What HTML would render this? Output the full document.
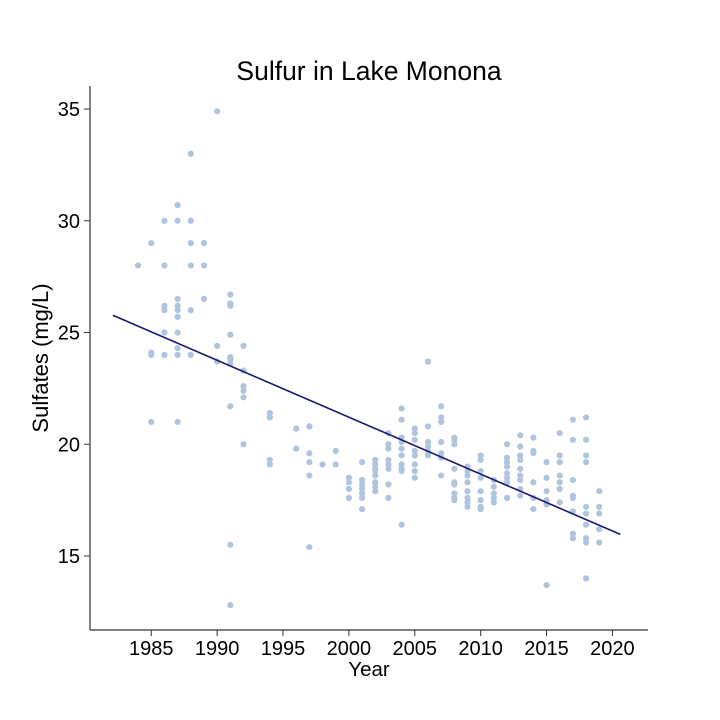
<!DOCTYPE html>
<html><head><meta charset="utf-8"><style>
body{margin:0;background:#fff}
svg{display:block;font-family:"Liberation Sans","DejaVu Sans",sans-serif}
</style></head><body>
<svg id="chart" width="720" height="720">
<text x="369" y="80" text-anchor="middle" font-size="26.5">Sulfur in Lake Monona</text>
<text x="369" y="676" text-anchor="middle" font-size="20.5">Year</text>
<text transform="translate(48,358) rotate(-90)" text-anchor="middle" font-size="22">Sulfates (mg/L)</text>
</svg>
<script>
const yearGroups = [1984,1985,1986,1987,1988,1989,1990,1991,1992,1994,1996,1997,1998,1999,2000,2001,2002,2003,2004,2005,2006,2007,2008,2009,2010,2011,2012,2013,2014,2015,2016,2017,2018,2019];
const sulfateGroups = [
[28],[29,24.1,24,21],[30,28,26.2,26,25,24],[30.7,30,26.5,26.2,26,25.7,25,24.3,24,21],
[33,30,29,28,26,24],[29,28,26.5],[34.9,24.4,23.7],[26.7,26.3,26.2,24.9,23.9,23.8,23.6,21.7,15.5,12.8],
[24.4,23.3,22.6,22.4,22.1,20],[21.4,21.2,19.3,19.1],[20.7,19.8],[20.8,20.8,19.6,19.2,18.6,15.4],
[19.1],[19.7,19.1],[18.5,18.3,18.0,17.6],[19.2,18.4,18.2,18.0,17.8,17.6,17.1],
[19.3,19.1,18.9,18.8,18.6,18.3,18.1,17.9],[20.5,20.0,19.8,19.3,19.1,18.9,18.2,17.6],
[21.6,21.1,20.3,20.1,19.8,19.5,19.1,18.9,18.8,16.4],[20.7,20.5,20.2,19.7,19.5,19.1,18.8,18.5],
[23.7,20.8,20.1,19.9,19.7,19.5],[21.7,21.2,21.0,20.1,19.6,19.4,18.6],
[20.3,20.2,20.0,18.9,18.3,18.2,17.8,17.6,17.5],[19.0,18.8,18.6,18.3,17.9,17.6,17.4,17.2],
[19.5,19.3,18.8,18.5,17.9,17.5,17.2,17.1],[18.4,18.1,17.8,17.6,17.4],
[20.0,19.4,19.2,19.0,18.7,18.5,18.3,17.6],[20.4,19.9,19.5,19.3,18.9,18.6,18.4,18.0,17.7],
[20.3,19.7,19.6,18.3,17.6,17.1],[19.2,18.5,17.9,17.5,17.3,13.7],
[20.5,19.5,19.2,18.6,18.3,18.0,17.4],[21.1,20.2,18.4,17.7,17.6,17.0,16.0,15.8],
[21.2,20.2,19.5,19.2,17.2,16.9,16.4,15.8,15.6,14.0],[17.9,17.2,16.9,16.2,15.6]
];
const xTicks = [1985,1990,1995,2000,2005,2010,2015,2020];
const yTicks = [15,20,25,30,35];
const fitRange = [1982.1, 2020.6];

const NS="http://www.w3.org/2000/svg";
const svg=document.getElementById('chart');
const X0=90,X1=648,Y0=86,Y1=630;
const xMin=1980.35,xMax=2022.7,yMin=11.69,yMax=36.03;
const xs=v=>X0+(v-xMin)/(xMax-xMin)*(X1-X0);
const ys=v=>Y1-(v-yMin)/(yMax-yMin)*(Y1-Y0);
function mk(t,a){const e=document.createElementNS(NS,t);for(const k in a)e.setAttribute(k,a[k]);svg.appendChild(e);return e;}

let l=mk('line',{x1:X0,y1:Y0,x2:X0,y2:Y1,stroke:'#333','stroke-width':1.2});


l=mk('line',{x1:X0,y1:Y1,x2:X1,y2:Y1,stroke:'#333','stroke-width':1.2});



xTicks.forEach(t=>{
  const x=xs(t);
  const tk=mk('line',{x1:x,y1:Y1,x2:x,y2:Y1+6,stroke:'#333','stroke-width':1});
  
  
  const tx=mk('text',{x:x,y:Y1+25,'text-anchor':'middle','font-size':20});
  tx.textContent=t;
  
  
});
yTicks.forEach(t=>{
  const y=ys(t);
  const tk=mk('line',{x1:X0-6,y1:y,x2:X0,y2:y,stroke:'#333','stroke-width':1});
  
  
  const tx=mk('text',{x:X0-10,y:y+7,'text-anchor':'end','font-size':20});
  tx.textContent=t;
  
  
});

let n=0,sx=0,sy=0,sxx=0,sxy=0;
yearGroups.forEach((yr,i)=>{
  sulfateGroups[i].forEach(v=>{
    n++;sx+=yr;sy+=v;sxx+=yr*yr;sxy+=yr*v;
    const c=mk('circle',{cx:xs(yr),cy:ys(v),r:3.1,fill:'#b0c4de'});
    
    
  });
});
const slope=(n*sxy-sx*sy)/(n*sxx-sx*sx);
const icpt=(sy-slope*sx)/n;
const fl=mk('line',{x1:xs(fitRange[0]),y1:ys(icpt+slope*fitRange[0]),x2:xs(fitRange[1]),y2:ys(icpt+slope*fitRange[1]),stroke:'#191970','stroke-width':1.6});


</script>
</body></html>
